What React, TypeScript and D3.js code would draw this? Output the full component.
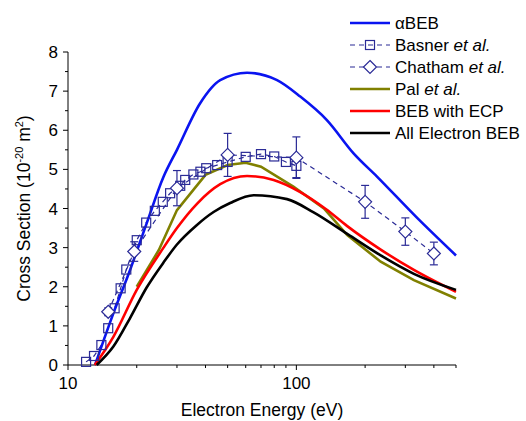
import React from "react";
import * as d3 from "d3";

// Basner et al. (squares)
const basnerE = [12, 13, 14, 15, 16, 17, 18, 20, 22, 24, 26, 28, 31, 32.6, 35.4, 38, 40.3, 45, 50, 60, 70, 80, 90, 100];
const basnerS = [0.08, 0.23, 0.51, 0.94, 1.45, 1.96, 2.44, 3.19, 3.64, 3.94, 4.17, 4.39, 4.58, 4.73, 4.87, 4.94, 5.03, 5.11, 5.19, 5.32, 5.39, 5.33, 5.19, 5.09];
const basnerErr = [0, 0, 0, 0, 0, 0, 0, 0, 0, 0, 0, 0, 0, 0, 0, 0, 0, 0, 0, 0, 0, 0, 0, 0.3];

// Chatham et al. (diamonds)
const chathamE = [15, 19.5, 30, 50, 100, 200, 300, 400];
const chathamS = [1.36, 2.9, 4.52, 5.37, 5.3, 4.17, 3.41, 2.85];
const chathamErr = [0.1, 0.25, 0.45, 0.55, 0.53, 0.42, 0.35, 0.29];

// theory curves
const abebE = [13.13, 15.8, 18.7, 22.1, 26.2, 30, 37.9, 46.4, 60.8, 82.3, 104, 136, 178, 226, 338, 500];
const abebS = [0, 1.32, 2.43, 3.62, 4.81, 5.5, 6.69, 7.28, 7.47, 7.28, 6.86, 6.26, 5.41, 4.81, 3.76, 2.8];

const palE = [20, 25, 30, 40, 50, 60, 70, 97, 132, 167, 234, 327, 500];
const palS = [2.0, 2.94, 3.96, 4.86, 5.11, 5.17, 5.07, 4.56, 4.0, 3.32, 2.64, 2.17, 1.7];

const ecpE = [13.1, 15.8, 20, 26.2, 30, 36.7, 46.4, 60.8, 79.5, 104, 135, 167, 234, 327, 500];
const ecpS = [0, 0.72, 1.92, 3.0, 3.5, 4.12, 4.62, 4.83, 4.73, 4.42, 3.98, 3.55, 2.95, 2.43, 1.87];

const aeE = [13.36, 15.8, 18.7, 22.1, 26.2, 30, 36.7, 43.4, 51.3, 65, 91, 119, 167, 234, 327, 500];
const aeS = [0, 0.47, 1.2, 1.98, 2.62, 3.08, 3.58, 3.91, 4.14, 4.34, 4.24, 3.9, 3.35, 2.8, 2.33, 1.92];

const yTicks = [0, 1, 2, 3, 4, 5, 6, 7, 8];
const xMajor = [10, 100];
const xMinor = [20, 30, 40, 50, 60, 70, 80, 90, 200, 300, 400, 500];

const NAVY = "#2a2a96";
const FONT = "'Liberation Sans', Arial, sans-serif";

const App = () => {
  const width = 526;
  const height = 421;
  const x = d3.scaleLog().domain([10, 500]).range([68, 456]);
  const y = d3.scaleLinear().domain([0, 8]).range([365, 52]);

  const smooth = d3
    .line<[number, number]>()
    .x((d) => x(d[0]))
    .y((d) => y(d[1]))
    .curve(d3.curveMonotoneX);
  const straight = d3
    .line<[number, number]>()
    .x((d) => x(d[0]))
    .y((d) => y(d[1]));

  const zip = (a: number[], b: number[]) => a.map((v, i) => [v, b[i]] as [number, number]);

  const curves = [
    { pts: zip(abebE, abebS), color: "#0a14f0", gen: smooth },
    { pts: zip(palE, palS), color: "#808000", gen: straight },
    { pts: zip(ecpE, ecpS), color: "#ff0000", gen: smooth },
    { pts: zip(aeE, aeS), color: "#000000", gen: smooth },
  ];

  const legend = [
    { kind: "line", color: "#0a14f0", label: ["\u03b1BEB"] },
    { kind: "square", color: NAVY, label: ["Basner ", "et al."] },
    { kind: "diamond", color: NAVY, label: ["Chatham ", "et al."] },
    { kind: "line", color: "#808000", label: ["Pal ", "et al."] },
    { kind: "line", color: "#ff0000", label: ["BEB with ECP"] },
    { kind: "line", color: "#000000", label: ["All Electron BEB"] },
  ];

  const diamond = (cx: number, cy: number, r: number) =>
    `M${cx},${cy - r}L${cx + r},${cy}L${cx},${cy + r}L${cx - r},${cy}Z`;

  return (
    <svg width={width} height={height} style={{ position: "absolute", left: 0, top: 0 }} fontFamily={FONT}>
      <rect width={width} height={height} fill="white" />

      {/* axes */}
      <line x1={68} x2={68} y1={y(8)} y2={y(0)} stroke="black" strokeWidth={1} />
      <line x1={68} x2={x(500)} y1={365} y2={365} stroke="black" strokeWidth={1} />
      {d3.range(0, 8.01, 0.5).map((v) => (
        <line key={"yt" + v} x1={68} x2={v % 1 === 0 ? 63 : 65} y1={y(v)} y2={y(v)} stroke="black" />
      ))}
      {yTicks.map((v) => (
        <text key={"yl" + v} x={58} y={y(v)} dy="0.36em" textAnchor="end" fontSize={17}>
          {v}
        </text>
      ))}
      {xMajor.map((v) => (
        <g key={"xm" + v}>
          <line x1={x(v)} x2={x(v)} y1={365} y2={370} stroke="black" />
          <text x={x(v)} y={389} textAnchor="middle" fontSize={17}>
            {v}
          </text>
        </g>
      ))}
      {xMinor.map((v) => (
        <line key={"xn" + v} x1={x(v)} x2={x(v)} y1={365} y2={368} stroke="black" />
      ))}

      <text x={262} y={416} textAnchor="middle" fontSize={17.5}>
        Electron Energy (eV)
      </text>
      <text transform={`translate(30,${(y(0) + y(8)) / 2}) rotate(-90)`} textAnchor="middle" fontSize={17.5}>
        Cross Section (10
        <tspan fontSize={11} dy={-7}>-20</tspan>
        <tspan dy={7}> m</tspan>
        <tspan fontSize={11} dy={-7}>2</tspan>
        <tspan dy={7}>)</tspan>
      </text>

      {/* experimental data */}
      <path d={straight(zip(basnerE, basnerS)) || ""} fill="none" stroke={NAVY} strokeWidth={1.2} strokeDasharray="5,4" />
      <path d={straight(zip(chathamE, chathamS)) || ""} fill="none" stroke={NAVY} strokeWidth={1.2} strokeDasharray="5,4" />

      {/* theory curves */}
      {curves.map((c, i) => (
        <path key={"c" + i} d={c.gen(c.pts) || ""} fill="none" stroke={c.color} strokeWidth={2.6} />
      ))}

      {basnerE.map((e, i) => (
        <g key={"b" + i}>
          {basnerErr[i] > 0 && (
            <g stroke={NAVY} strokeWidth={1.2}>
              <line x1={x(e)} x2={x(e)} y1={y(basnerS[i] - basnerErr[i])} y2={y(basnerS[i] + basnerErr[i])} />
              <line x1={x(e) - 4} x2={x(e) + 4} y1={y(basnerS[i] - basnerErr[i])} y2={y(basnerS[i] - basnerErr[i])} />
            </g>
          )}
          <rect x={x(e) - 4.5} y={y(basnerS[i]) - 4.5} width={9} height={9} fill="none" stroke={NAVY} strokeWidth={1.2} />
        </g>
      ))}
      {chathamE.map((e, i) => {
        const cx = x(e);
        const lo = y(chathamS[i] - chathamErr[i]);
        const hi = y(chathamS[i] + chathamErr[i]);
        return (
          <g key={"ch" + i} stroke={NAVY} strokeWidth={1.2}>
            <line x1={cx} x2={cx} y1={lo} y2={hi} />
            <line x1={cx - 4} x2={cx + 4} y1={lo} y2={lo} />
            <line x1={cx - 4} x2={cx + 4} y1={hi} y2={hi} />
            <path d={diamond(cx, y(chathamS[i]), 6.5)} fill="white" />
          </g>
        );
      })}

      {/* legend */}
      {legend.map((l, i) => {
        const ly = 23 + i * 22;
        return (
          <g key={"lg" + i}>
            {l.kind === "line" ? (
              <line x1={350} x2={390} y1={ly} y2={ly} stroke={l.color} strokeWidth={2.6} />
            ) : (
              <g stroke={l.color} strokeWidth={1.2}>
                <line x1={350} x2={390} y1={ly} y2={ly} strokeDasharray="5,4" />
                {l.kind === "square" ? (
                  <rect x={365.5} y={ly - 4.5} width={9} height={9} fill="none" />
                ) : (
                  <path d={diamond(370, ly, 6.5)} fill="white" />
                )}
              </g>
            )}
            <text x={395} y={ly} dy="0.36em" fontSize={17}>
              {l.label[0]}
              {l.label[1] && <tspan fontStyle="italic">{l.label[1]}</tspan>}
            </text>
          </g>
        );
      })}
    </svg>
  );
};

export default App;
